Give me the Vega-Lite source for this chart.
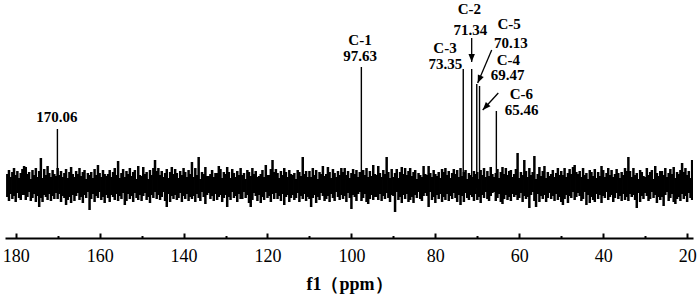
{
"$schema":"https://vega.github.io/schema/vega-lite/v6.json",
"autosize":"none",
"width":688,"height":238,
"padding":{"left":5,"top":0,"right":6,"bottom":64},
"background":"white",
"config":{"view":{"stroke":null}},
"datasets":{
"noise":[
{"p":182,"h":64,"l":41},{"p":181.6,"h":68,"l":37},{"p":181.2,"h":61,"l":44},{"p":180.8,"h":66,"l":39},{"p":180.4,"h":70,"l":42},{"p":180,"h":63,"l":36},{"p":179.6,"h":67,"l":45},{"p":179.2,"h":60,"l":40},{"p":178.8,"h":65,"l":38},{"p":178.4,"h":69,"l":43},
{"p":178,"h":72,"l":43},{"p":177.6,"h":71,"l":38},{"p":177.2,"h":64,"l":41},{"p":176.8,"h":66,"l":46},{"p":176.4,"h":59,"l":37},{"p":176,"h":68,"l":40},{"p":175.6,"h":63,"l":44},{"p":175.2,"h":70,"l":36},{"p":174.8,"h":61,"l":42},{"p":174.4,"h":67,"l":31},
{"p":174,"h":80,"l":40},{"p":173.6,"h":60,"l":36},{"p":173.2,"h":69,"l":43},{"p":172.8,"h":63,"l":41},{"p":172.4,"h":72,"l":38},{"p":172,"h":65,"l":44},{"p":171.6,"h":61,"l":37},{"p":171.2,"h":68,"l":42},{"p":170.8,"h":64,"l":39},{"p":170.4,"h":62,"l":45},
{"p":170,"h":70,"l":39},{"p":169.6,"h":63,"l":44},{"p":169.2,"h":67,"l":36},{"p":168.8,"h":61,"l":42},{"p":168.4,"h":65,"l":40},{"p":168,"h":69,"l":33},{"p":167.6,"h":60,"l":38},{"p":167.2,"h":66,"l":41},{"p":166.8,"h":71,"l":35},{"p":166.4,"h":64,"l":43},
{"p":166,"h":61,"l":37},{"p":165.6,"h":67,"l":42},{"p":165.2,"h":64,"l":45},{"p":164.8,"h":70,"l":38},{"p":164.4,"h":62,"l":41},{"p":164,"h":66,"l":35},{"p":163.6,"h":68,"l":43},{"p":163.2,"h":59,"l":40},{"p":162.8,"h":65,"l":46},{"p":162.4,"h":63,"l":28},
{"p":162,"h":66,"l":39},{"p":161.6,"h":60,"l":44},{"p":161.2,"h":69,"l":36},{"p":160.8,"h":63,"l":42},{"p":160.4,"h":73,"l":40},{"p":160,"h":65,"l":46},{"p":159.6,"h":61,"l":38},{"p":159.2,"h":68,"l":41},{"p":158.8,"h":64,"l":35},{"p":158.4,"h":62,"l":43},
{"p":158,"h":64,"l":40},{"p":157.6,"h":68,"l":36},{"p":157.2,"h":61,"l":43},{"p":156.8,"h":66,"l":41},{"p":156.4,"h":70,"l":38},{"p":156,"h":63,"l":44},{"p":155.6,"h":77,"l":37},{"p":155.2,"h":60,"l":42},{"p":154.8,"h":65,"l":39},{"p":154.4,"h":69,"l":45},
{"p":154,"h":61,"l":33},{"p":153.6,"h":67,"l":37},{"p":153.2,"h":64,"l":44},{"p":152.8,"h":70,"l":39},{"p":152.4,"h":62,"l":42},{"p":152,"h":66,"l":36},{"p":151.6,"h":68,"l":45},{"p":151.2,"h":59,"l":40},{"p":150.8,"h":72,"l":38},{"p":150.4,"h":63,"l":43},
{"p":150,"h":62,"l":37},{"p":149.6,"h":71,"l":42},{"p":149.2,"h":64,"l":45},{"p":148.8,"h":66,"l":38},{"p":148.4,"h":59,"l":41},{"p":148,"h":68,"l":35},{"p":147.6,"h":63,"l":43},{"p":147.2,"h":70,"l":40},{"p":146.8,"h":78,"l":46},{"p":146.4,"h":67,"l":39},
{"p":146,"h":70,"l":43},{"p":145.6,"h":63,"l":38},{"p":145.2,"h":67,"l":41},{"p":144.8,"h":61,"l":46},{"p":144.4,"h":65,"l":37},{"p":144,"h":69,"l":31},{"p":143.6,"h":60,"l":44},{"p":143.2,"h":66,"l":36},{"p":142.8,"h":71,"l":42},{"p":142.4,"h":64,"l":39},
{"p":142,"h":69,"l":43},{"p":141.6,"h":65,"l":38},{"p":141.2,"h":60,"l":40},{"p":140.8,"h":67,"l":45},{"p":140.4,"h":63,"l":36},{"p":140,"h":70,"l":42},{"p":139.6,"h":66,"l":39},{"p":139.2,"h":61,"l":44},{"p":138.8,"h":68,"l":37},{"p":138.4,"h":64,"l":41},
{"p":138,"h":76,"l":39},{"p":137.6,"h":61,"l":42},{"p":137.2,"h":70,"l":36},{"p":136.8,"h":63,"l":44},{"p":136.4,"h":81,"l":40},{"p":136,"h":59,"l":37},{"p":135.6,"h":66,"l":46},{"p":135.2,"h":64,"l":41},{"p":134.8,"h":71,"l":34},{"p":134.4,"h":62,"l":43},
{"p":134,"h":62,"l":45},{"p":133.6,"h":64,"l":39},{"p":133.2,"h":68,"l":42},{"p":132.8,"h":61,"l":37},{"p":132.4,"h":65,"l":44},{"p":132,"h":65,"l":38},{"p":131.6,"h":72,"l":41},{"p":131.2,"h":69,"l":43},{"p":130.8,"h":60,"l":36},{"p":130.4,"h":66,"l":40},
{"p":130,"h":64,"l":43},{"p":129.6,"h":71,"l":31},{"p":129.2,"h":66,"l":41},{"p":128.8,"h":60,"l":38},{"p":128.4,"h":69,"l":46},{"p":128,"h":65,"l":40},{"p":127.6,"h":61,"l":42},{"p":127.2,"h":67,"l":36},{"p":126.8,"h":63,"l":44},{"p":126.4,"h":70,"l":39},
{"p":126,"h":63,"l":39},{"p":125.6,"h":65,"l":46},{"p":125.2,"h":59,"l":40},{"p":124.8,"h":68,"l":43},{"p":124.4,"h":66,"l":35},{"p":124,"h":62,"l":31},{"p":123.6,"h":70,"l":38},{"p":123.2,"h":64,"l":45},{"p":122.8,"h":67,"l":42},{"p":122.4,"h":61,"l":37},
{"p":122,"h":62,"l":43},{"p":121.6,"h":64,"l":35},{"p":121.2,"h":68,"l":41},{"p":120.8,"h":61,"l":38},{"p":120.4,"h":73,"l":46},{"p":120,"h":63,"l":40},{"p":119.6,"h":63,"l":42},{"p":119.2,"h":69,"l":36},{"p":118.8,"h":78,"l":44},{"p":118.4,"h":66,"l":39},
{"p":118,"h":69,"l":45},{"p":117.6,"h":65,"l":39},{"p":117.2,"h":60,"l":42},{"p":116.8,"h":67,"l":37},{"p":116.4,"h":63,"l":44},{"p":116,"h":70,"l":33},{"p":115.6,"h":66,"l":41},{"p":115.2,"h":61,"l":43},{"p":114.8,"h":68,"l":36},{"p":114.4,"h":64,"l":40},
{"p":114,"h":63,"l":43},{"p":113.6,"h":65,"l":38},{"p":113.2,"h":59,"l":40},{"p":112.8,"h":68,"l":45},{"p":112.4,"h":66,"l":36},{"p":112,"h":62,"l":42},{"p":111.6,"h":81,"l":39},{"p":111.2,"h":64,"l":44},{"p":110.8,"h":67,"l":37},{"p":110.4,"h":61,"l":41},
{"p":110,"h":67,"l":39},{"p":109.6,"h":61,"l":31},{"p":109.2,"h":70,"l":40},{"p":108.8,"h":63,"l":43},{"p":108.4,"h":68,"l":35},{"p":108,"h":59,"l":41},{"p":107.6,"h":66,"l":38},{"p":107.2,"h":64,"l":45},{"p":106.8,"h":72,"l":42},{"p":106.4,"h":62,"l":37},
{"p":106,"h":64,"l":39},{"p":105.6,"h":71,"l":42},{"p":105.2,"h":66,"l":36},{"p":104.8,"h":60,"l":44},{"p":104.4,"h":69,"l":40},{"p":104,"h":65,"l":37},{"p":103.6,"h":61,"l":46},{"p":103.2,"h":67,"l":41},{"p":102.8,"h":63,"l":38},{"p":102.4,"h":70,"l":43},
{"p":102,"h":66,"l":39},{"p":101.6,"h":70,"l":42},{"p":101.2,"h":63,"l":36},{"p":100.8,"h":67,"l":45},{"p":100.4,"h":60,"l":40},{"p":100,"h":65,"l":29},{"p":99.6,"h":69,"l":43},{"p":99.2,"h":64,"l":41},{"p":98.8,"h":68,"l":37},{"p":98.4,"h":61,"l":44},
{"p":98,"h":66,"l":46},{"p":97.6,"h":59,"l":37},{"p":97.2,"h":68,"l":40},{"p":96.8,"h":63,"l":44},{"p":96.4,"h":70,"l":36},{"p":96,"h":61,"l":34},{"p":95.6,"h":67,"l":39},{"p":95.2,"h":62,"l":43},{"p":94.8,"h":73,"l":38},{"p":94.4,"h":64,"l":41},
{"p":94,"h":63,"l":41},{"p":93.6,"h":72,"l":38},{"p":93.2,"h":65,"l":44},{"p":92.8,"h":61,"l":37},{"p":92.4,"h":68,"l":42},{"p":92,"h":64,"l":39},{"p":91.6,"h":81,"l":45},{"p":91.2,"h":66,"l":40},{"p":90.8,"h":60,"l":36},{"p":90.4,"h":69,"l":43},
{"p":90,"h":61,"l":42},{"p":89.6,"h":65,"l":26},{"p":89.2,"h":69,"l":46},{"p":88.8,"h":60,"l":38},{"p":88.4,"h":66,"l":41},{"p":88,"h":71,"l":35},{"p":87.6,"h":64,"l":43},{"p":87.2,"h":70,"l":39},{"p":86.8,"h":63,"l":44},{"p":86.4,"h":67,"l":36},
{"p":86,"h":70,"l":38},{"p":85.6,"h":62,"l":41},{"p":85.2,"h":66,"l":35},{"p":84.8,"h":68,"l":43},{"p":84.4,"h":59,"l":40},{"p":84,"h":65,"l":46},{"p":83.6,"h":63,"l":39},{"p":83.2,"h":61,"l":37},{"p":82.8,"h":72,"l":42},{"p":82.4,"h":64,"l":45},
{"p":82,"h":63,"l":42},{"p":81.6,"h":72,"l":31},{"p":81.2,"h":65,"l":46},{"p":80.8,"h":61,"l":38},{"p":80.4,"h":68,"l":41},{"p":80,"h":64,"l":35},{"p":79.6,"h":62,"l":43},{"p":79.2,"h":66,"l":39},{"p":78.8,"h":60,"l":44},{"p":78.4,"h":69,"l":36},
{"p":78,"h":66,"l":41},{"p":77.6,"h":70,"l":38},{"p":77.2,"h":63,"l":44},{"p":76.8,"h":67,"l":37},{"p":76.4,"h":60,"l":42},{"p":76,"h":65,"l":39},{"p":75.6,"h":69,"l":45},{"p":75.2,"h":64,"l":40},{"p":74.8,"h":68,"l":36},{"p":74.4,"h":61,"l":43},
{"p":74,"h":70,"l":33},{"p":73.6,"h":62,"l":42},{"p":73.2,"h":66,"l":36},{"p":72.8,"h":68,"l":45},{"p":72.4,"h":59,"l":40},{"p":72,"h":65,"l":38},{"p":71.6,"h":63,"l":43},{"p":71.2,"h":61,"l":41},{"p":70.8,"h":67,"l":37},{"p":70.4,"h":64,"l":44},
{"p":70,"h":66,"l":38},{"p":69.6,"h":59,"l":41},{"p":69.2,"h":68,"l":35},{"p":68.8,"h":63,"l":43},{"p":68.4,"h":70,"l":40},{"p":68,"h":61,"l":46},{"p":67.6,"h":67,"l":39},{"p":67.2,"h":62,"l":37},{"p":66.8,"h":71,"l":42},{"p":66.4,"h":64,"l":45},
{"p":66,"h":61,"l":46},{"p":65.6,"h":65,"l":37},{"p":65.2,"h":69,"l":40},{"p":64.8,"h":60,"l":44},{"p":64.4,"h":66,"l":36},{"p":64,"h":71,"l":34},{"p":63.6,"h":64,"l":39},{"p":63.2,"h":70,"l":43},{"p":62.8,"h":63,"l":38},{"p":62.4,"h":67,"l":41},
{"p":62,"h":68,"l":37},{"p":61.6,"h":61,"l":44},{"p":61.2,"h":64,"l":41},{"p":60.8,"h":69,"l":43},{"p":60.4,"h":85,"l":38},{"p":60,"h":60,"l":40},{"p":59.6,"h":66,"l":45},{"p":59.2,"h":63,"l":36},{"p":58.8,"h":78,"l":42},{"p":58.4,"h":67,"l":39},
{"p":58,"h":61,"l":41},{"p":57.6,"h":70,"l":30},{"p":57.2,"h":63,"l":43},{"p":56.8,"h":66,"l":46},{"p":56.4,"h":82,"l":37},{"p":56,"h":59,"l":31},{"p":55.6,"h":64,"l":44},{"p":55.2,"h":71,"l":36},{"p":54.8,"h":62,"l":42},{"p":54.4,"h":67,"l":39},
{"p":54,"h":72,"l":43},{"p":53.6,"h":60,"l":36},{"p":53.2,"h":66,"l":40},{"p":52.8,"h":62,"l":45},{"p":52.4,"h":64,"l":39},{"p":52,"h":68,"l":42},{"p":51.6,"h":61,"l":37},{"p":51.2,"h":65,"l":44},{"p":50.8,"h":70,"l":38},{"p":50.4,"h":63,"l":41},
{"p":50,"h":67,"l":36},{"p":49.6,"h":63,"l":33},{"p":49.2,"h":70,"l":39},{"p":48.8,"h":61,"l":43},{"p":48.4,"h":65,"l":35},{"p":48,"h":69,"l":42},{"p":47.6,"h":64,"l":40},{"p":47.2,"h":71,"l":46},{"p":46.8,"h":73,"l":38},{"p":46.4,"h":66,"l":41},
{"p":46,"h":64,"l":45},{"p":45.6,"h":67,"l":42},{"p":45.2,"h":61,"l":37},{"p":44.8,"h":70,"l":39},{"p":44.4,"h":63,"l":46},{"p":44,"h":65,"l":33},{"p":43.6,"h":59,"l":43},{"p":43.2,"h":68,"l":35},{"p":42.8,"h":66,"l":41},{"p":42.4,"h":62,"l":38},
{"p":42,"h":69,"l":36},{"p":41.6,"h":60,"l":44},{"p":41.2,"h":66,"l":39},{"p":40.8,"h":62,"l":43},{"p":40.4,"h":72,"l":35},{"p":40,"h":68,"l":42},{"p":39.6,"h":61,"l":40},{"p":39.2,"h":65,"l":46},{"p":38.8,"h":70,"l":38},{"p":38.4,"h":63,"l":41},
{"p":38,"h":68,"l":43},{"p":37.6,"h":61,"l":36},{"p":37.2,"h":64,"l":40},{"p":36.8,"h":69,"l":45},{"p":36.4,"h":65,"l":39},{"p":36,"h":60,"l":42},{"p":35.6,"h":66,"l":37},{"p":35.2,"h":63,"l":44},{"p":34.8,"h":70,"l":38},{"p":34.4,"h":67,"l":41},
{"p":34,"h":81,"l":37},{"p":33.6,"h":67,"l":44},{"p":33.2,"h":61,"l":41},{"p":32.8,"h":70,"l":43},{"p":32.4,"h":63,"l":38},{"p":32,"h":65,"l":30},{"p":31.6,"h":59,"l":45},{"p":31.2,"h":68,"l":36},{"p":30.8,"h":66,"l":42},{"p":30.4,"h":62,"l":39},
{"p":30,"h":61,"l":45},{"p":29.6,"h":70,"l":42},{"p":29.2,"h":63,"l":37},{"p":28.8,"h":66,"l":39},{"p":28.4,"h":68,"l":46},{"p":28,"h":59,"l":40},{"p":27.6,"h":72,"l":43},{"p":27.2,"h":65,"l":35},{"p":26.8,"h":62,"l":41},{"p":26.4,"h":67,"l":38},
{"p":26,"h":67,"l":41},{"p":25.6,"h":63,"l":32},{"p":25.2,"h":70,"l":43},{"p":24.8,"h":61,"l":46},{"p":24.4,"h":65,"l":37},{"p":24,"h":69,"l":40},{"p":23.6,"h":64,"l":44},{"p":23.2,"h":71,"l":36},{"p":22.8,"h":60,"l":34},{"p":22.4,"h":66,"l":39},
{"p":22,"h":64,"l":41},{"p":21.6,"h":68,"l":37},{"p":21.2,"h":75,"l":44},{"p":20.8,"h":66,"l":39},{"p":20.4,"h":70,"l":42},{"p":20,"h":63,"l":36},{"p":19.6,"h":67,"l":45},{"p":19.2,"h":60,"l":40},{"p":18.8,"h":78,"l":38},{"p":18.4,"h":69,"l":43}
],
"peaks":[
{"p":170.06,"top":109,"base":50},
{"p":97.63,"top":171,"base":50},
{"p":73.35,"top":169,"base":50},
{"p":71.34,"top":169,"base":50},
{"p":70.13,"top":154,"base":50},
{"p":69.47,"top":152,"base":50},
{"p":65.46,"top":127,"base":50}
],
"labels":[
{"t":"170.06","p":170.16,"v":121},
{"t":"C-1","p":97.95,"v":198.5},
{"t":"97.63","p":97.95,"v":182.5},
{"t":"C-3","p":77.7,"v":190},
{"t":"73.35","p":77.6,"v":174},
{"t":"C-2","p":71.91,"v":229},
{"t":"71.34","p":71.67,"v":208},
{"t":"C-5","p":62.4,"v":214},
{"t":"70.13","p":62.02,"v":195},
{"t":"C-4","p":62.61,"v":178},
{"t":"69.47","p":62.76,"v":163},
{"t":"C-6","p":59.52,"v":144},
{"t":"65.46","p":59.42,"v":128}
],
"arrows":[
{"lab":"C-2","p":71.34,"v":200,"p2":71.34,"v2":176},
{"lab":"C-5","p":66.57,"v":188,"p2":69.91,"v2":155},
{"lab":"C-4","p":65.0,"v":145,"p2":68.71,"v2":128}
]
},
"layer":[
{
"data":{"name":"noise"},
"mark":{"type":"rule","color":"black","strokeWidth":2.5,"clip":true},
"encoding":{
"x":{"field":"p","type":"quantitative",
"scale":{"domain":[18.6,182.55],"reverse":true,"nice":false,"zero":false},
"axis":{"values":[180,170,160,150,140,130,120,110,100,90,80,70,60,50,40,30,20],
"labelExpr":"datum.value % 20 === 0 ? datum.label : ''",
"tickSize":{"condition":{"test":"datum.value % 20 === 0","value":-5},"value":-2.5},
"tickWidth":2,"tickColor":"black","domainColor":"black","domainWidth":2,
"labelFont":"Liberation Serif","labelFontSize":18,"labelColor":"black","labelPadding":14,
"labelOverlap":false,"labelFlush":false,"grid":false,
"title":"f1（ppm）","titleFont":"Liberation Serif","titleFontSize":18,"titleFontWeight":"bold","titleColor":"black","titlePadding":8}},
"y":{"field":"h","type":"quantitative","scale":{"domain":[0,238],"nice":false,"zero":false},"axis":null},
"y2":{"field":"l"}
}
},
{
"data":{"name":"peaks"},
"mark":{"type":"rule","color":"black","strokeWidth":1.4},
"encoding":{
"x":{"field":"p","type":"quantitative"},
"y":{"field":"top","type":"quantitative"},
"y2":{"field":"base"}
}
},
{
"data":{"name":"arrows"},
"mark":{"type":"rule","color":"black","strokeWidth":1.3},
"encoding":{
"x":{"field":"p","type":"quantitative"},
"y":{"field":"v","type":"quantitative"},
"x2":{"field":"p2"},
"y2":{"field":"v2"}
}
},
{
"data":{"name":"arrows"},
"transform":[{"filter":"datum.lab === 'C-2'"}],
"mark":{"type":"point","shape":"M0,0L-0.4,-1L0.4,-1Z","filled":true,"color":"black","opacity":1,"size":256,"angle":0},
"encoding":{"x":{"field":"p2","type":"quantitative"},"y":{"field":"v2","type":"quantitative"}}
},
{
"data":{"name":"arrows"},
"transform":[{"filter":"datum.lab === 'C-5'"}],
"mark":{"type":"point","shape":"M0,0L-0.4,-1L0.4,-1Z","filled":true,"color":"black","opacity":1,"size":256,"angle":23},
"encoding":{"x":{"field":"p2","type":"quantitative"},"y":{"field":"v2","type":"quantitative"}}
},
{
"data":{"name":"arrows"},
"transform":[{"filter":"datum.lab === 'C-4'"}],
"mark":{"type":"point","shape":"M0,0L-0.4,-1L0.4,-1Z","filled":true,"color":"black","opacity":1,"size":256,"angle":43},
"encoding":{"x":{"field":"p2","type":"quantitative"},"y":{"field":"v2","type":"quantitative"}}
},
{
"data":{"name":"labels"},
"mark":{"type":"text","font":"Liberation Serif","fontSize":15,"fontWeight":"bold","color":"black","align":"center","baseline":"middle"},
"encoding":{
"x":{"field":"p","type":"quantitative"},
"y":{"field":"v","type":"quantitative"},
"text":{"field":"t"}
}
}
]
}
